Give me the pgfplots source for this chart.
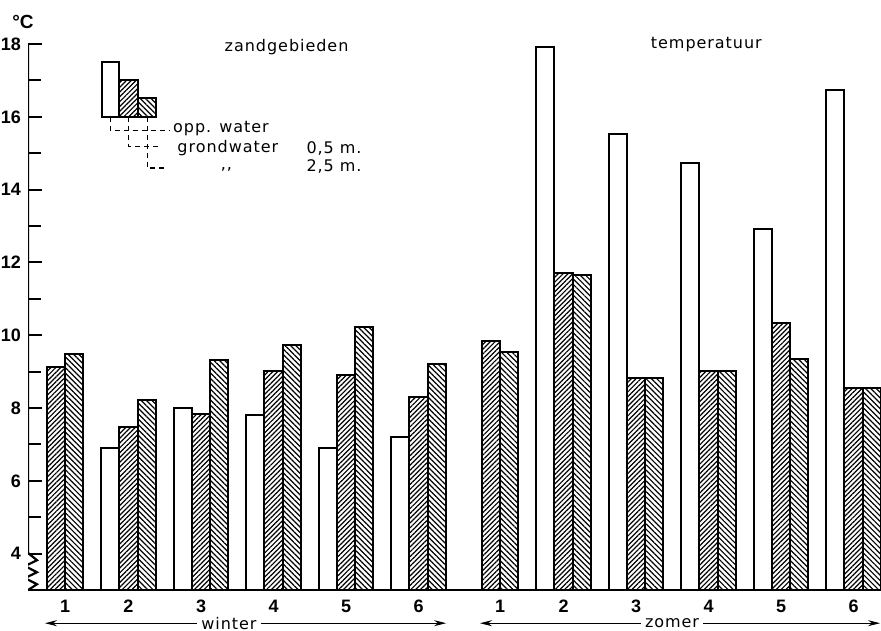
\documentclass[border=0pt]{standalone}
\usepackage{fontspec}
\setmainfont{DejaVu Sans}
\newfontfamily\lbl[LetterSpace=6]{DejaVu Sans}
\newfontfamily\num{Liberation Sans}
\usepackage{pgfplots}
\pgfplotsset{compat=1.18}
\usetikzlibrary{patterns.meta,arrows.meta}

\tikzset{
  txt/.style={font=\lbl\fontsize{8}{9}\selectfont, inner sep=0pt},
  hA/.style={draw=black, line width=1pt, pattern={Lines[angle=45,distance=1.7pt,line width=0.6pt]}},
  hB/.style={draw=black, line width=1pt, pattern={Lines[angle=-45,distance=1.9pt,line width=0.6pt]}},
}

\begin{document}
\begin{tikzpicture}
\begin{axis}[
  x=36.25pt, y=18.2pt,
  xmin=0.614, xmax=12.38, ymin=3, ymax=19.3,
  axis x line=bottom, axis y line=left,
  x axis line style={-, line width=1.1pt},
  y axis line style={draw=none},
  ytick={4,6,...,18}, minor ytick={5,7,...,17},
  xtick={1.125,2,3,4,5,6,7.125,8,9,10,11,12},
  xticklabels={1,2,3,4,5,6,1,2,3,4,5,6},
  tick align=inside,
  major tick length=7pt, minor tick length=6.5pt,
  ytick style={line width=1pt, black},
  xtick style={draw=none},
  tick label style={font=\num\bfseries\fontsize{9}{10}\selectfont},
  /pgf/number format/assume math mode=true,
  xticklabel style={yshift=-1.5pt},
  bar width=0.25,
]
% opp. water
\addplot[ybar, bar shift=-0.25, draw=black, line width=1pt, fill=white] coordinates {
  (2,6.91)(3,8.00)(4,7.80)(5,6.91)(6,7.21)
  (8,17.92)(9,15.52)(10,14.74)(11,12.91)(12,16.73)};
% grondwater 0,5 m
\addplot[ybar, bar shift=0, hA] coordinates {
  (1,9.13)(2,7.48)(3,7.85)(4,9.01)(5,8.90)(6,8.30)
  (7,9.84)(8,11.72)(9,8.83)(10,9.02)(11,10.34)(12,8.54)};
% grondwater 2,5 m
\addplot[ybar, bar shift=0.25, hB] coordinates {
  (1,9.48)(2,8.21)(3,9.31)(4,9.73)(5,10.23)(6,9.22)
  (7,9.53)(8,11.65)(9,8.83)(10,9.02)(11,9.34)(12,8.54)};

% key
\addplot[draw=black, line width=1pt, fill=white] coordinates {(1.63,16)(1.63,17.51)(1.875,17.51)(1.875,16)} -- cycle;
\addplot[hA] coordinates {(1.875,16)(1.875,17.02)(2.13,17.02)(2.13,16)} -- cycle;
\addplot[hB] coordinates {(2.13,16)(2.13,16.53)(2.38,16.53)(2.38,16)} -- cycle;
\draw[line width=0.8pt, dash pattern=on 2.5pt off 2pt] (axis cs:1.75,16) -- (axis cs:1.75,15.62) -- (axis cs:2.56,15.62);
\draw[line width=0.8pt, dash pattern=on 2.5pt off 2pt] (axis cs:2.0,16) -- (axis cs:2.0,15.19) -- (axis cs:2.45,15.19);
\draw[line width=0.8pt, dash pattern=on 2.5pt off 2pt] (axis cs:2.26,16) -- (axis cs:2.26,14.60) -- (axis cs:2.55,14.60);
\node[txt, anchor=west] at (axis cs:2.61,15.69) {opp. water};
\node[txt, anchor=west] at (axis cs:2.67,15.14) {grondwater};
\node[txt, anchor=west] at (axis cs:4.45,15.14) {0,5 m.};
\node[txt] at (axis cs:3.35,14.55) {,,};
\node[txt, anchor=west] at (axis cs:4.45,14.65) {2,5 m.};

\node[txt] at (axis cs:4.18,17.92) {zandgebieden};
\node[txt] at (axis cs:9.97,18.0) {temperatuur};

% y axis with break
\draw[line width=1.1pt] (axis cs:0.614,18) -- (axis cs:0.614,4.02) -- (axis cs:0.738,3.82)
  -- (axis cs:0.572,3.66) -- (axis cs:0.738,3.49) -- (axis cs:0.572,3.33)
  -- (axis cs:0.738,3.16) -- (axis cs:0.614,3);

\coordinate (degC) at (axis cs:0.545,18.6);
\coordinate (wl) at (axis cs:0.848,2.09);
\coordinate (wr) at (axis cs:6.38,2.09);
\coordinate (wt) at (axis cs:3.386,2.09);
\coordinate (zl) at (axis cs:6.848,2.09);
\coordinate (zr) at (axis cs:12.366,2.09);
\coordinate (zt) at (axis cs:9.497,2.09);
\coordinate (bbll) at (axis cs:0.2276,1.90);
\coordinate (bbur) at (axis cs:12.379,19.21);
\end{axis}
\draw[line width=0.5pt, {Stealth[length=6pt,width=3pt]}-{Stealth[length=6pt,width=3pt]}] (wl) -- (wr);
\node[txt, fill=white, inner sep=2pt] at (wt) {winter};
\draw[line width=0.5pt, {Stealth[length=6pt,width=3pt]}-{Stealth[length=6pt,width=3pt]}] (zl) -- (zr);
\node[txt, fill=white, inner sep=2pt] at (zt) {zomer};
\node[font=\num\bfseries\fontsize{9.5}{10}\selectfont, inner sep=0pt] at (degC) {°C};
\pgfresetboundingbox
\path (bbll) rectangle (bbur);
\end{tikzpicture}
\end{document}
